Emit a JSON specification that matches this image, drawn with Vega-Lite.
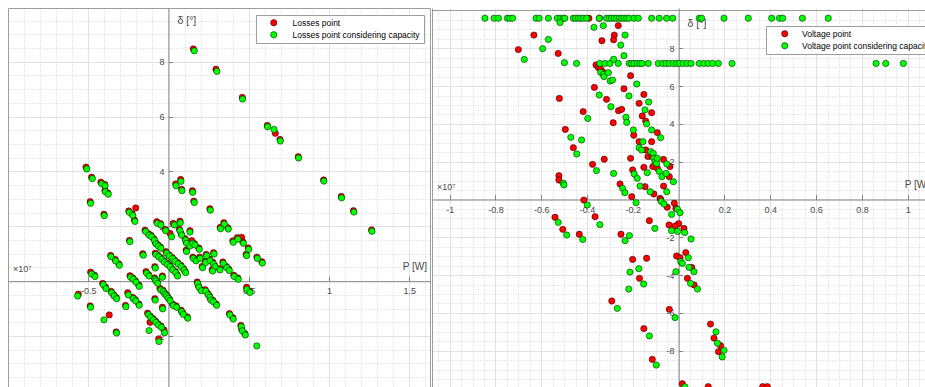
{
  "$schema": "https://vega.github.io/schema/vega-lite/v6.json",
  "usermeta": {"embedOptions": {"actions": false}},
  "background": "white",
  "padding": {"left": 8, "top": 8, "right": 0, "bottom": 0},
  "spacing": 2,
  "bounds": "flush",
  "resolve": {"scale": {"color": "independent"}},
  "config": {
    "font": "Liberation Sans",
    "view": {"stroke": null},
    "axis": {"labelFont": "Liberation Sans", "titleFont": "Liberation Sans", "labelFontSize": 9, "labelColor": "#4a4a4a", "titleColor": "#4a4a4a", "titleFontWeight": "normal", "labelOverlap": false, "labelFlush": false},
    "legend": {"labelFont": "Liberation Sans", "labelFontSize": 8.5, "labelColor": "#000000", "symbolType": "circle", "symbolSize": 40, "symbolStrokeColor": "#000000", "symbolStrokeWidth": 0.5, "fillColor": "#ffffff", "strokeColor": "#9d9d9d", "padding": 3.5, "rowPadding": 3}
  },
  "datasets": {
    "losses": [
      {"s":"Losses point","p":0.155,"d":8.47},{"s":"Losses point","p":0.296,"d":7.73},{"s":"Losses point","p":0.460,"d":6.70},{"s":"Losses point","p":0.616,"d":5.68},{"s":"Losses point","p":0.666,"d":5.39},{"s":"Losses point","p":0.695,"d":5.17},{"s":"Losses point","p":0.809,"d":4.54},{"s":"Losses point","p":0.967,"d":3.69},{"s":"Losses point","p":1.077,"d":3.09},{"s":"Losses point","p":1.153,"d":2.57},{"s":"Losses point","p":1.266,"d":1.87},
      {"s":"Losses point","p":-0.514,"d":4.16},{"s":"Losses point","p":-0.479,"d":3.79},{"s":"Losses point","p":-0.421,"d":3.61},{"s":"Losses point","p":-0.397,"d":3.53},{"s":"Losses point","p":-0.396,"d":3.31},{"s":"Losses point","p":-0.378,"d":3.22},{"s":"Losses point","p":0.045,"d":3.55},{"s":"Losses point","p":0.076,"d":3.71},{"s":"Losses point","p":0.082,"d":3.35},{"s":"Losses point","p":0.149,"d":3.30},{"s":"Losses point","p":0.158,"d":2.92},
      {"s":"Losses point","p":-0.488,"d":2.90},{"s":"Losses point","p":-0.402,"d":2.44},{"s":"Losses point","p":-0.247,"d":2.56},{"s":"Losses point","p":-0.226,"d":2.45},{"s":"Losses point","p":-0.212,"d":2.23},{"s":"Losses point","p":-0.204,"d":2.67},{"s":"Losses point","p":-0.243,"d":1.49},{"s":"Losses point","p":-0.360,"d":0.94},{"s":"Losses point","p":-0.332,"d":0.79},{"s":"Losses point","p":-0.309,"d":0.63},{"s":"Losses point","p":-0.160,"d":1.00},
      {"s":"Losses point","p":-0.485,"d":0.33},{"s":"Losses point","p":-0.461,"d":0.22},{"s":"Losses point","p":-0.410,"d":-0.08},{"s":"Losses point","p":-0.392,"d":-0.22},{"s":"Losses point","p":-0.357,"d":-0.37},{"s":"Losses point","p":-0.342,"d":-0.49},{"s":"Losses point","p":-0.326,"d":-0.59},{"s":"Losses point","p":-0.562,"d":-0.47},{"s":"Losses point","p":-0.488,"d":-0.90},{"s":"Losses point","p":-0.369,"d":-1.23},{"s":"Losses point","p":-0.326,"d":-1.85},
      {"s":"Losses point","p":-0.268,"d":-0.88},{"s":"Losses point","p":-0.254,"d":-0.42},{"s":"Losses point","p":-0.222,"d":-0.59},{"s":"Losses point","p":-0.207,"d":-0.67},{"s":"Losses point","p":-0.185,"d":-0.83},{"s":"Losses point","p":-0.240,"d":0.20},{"s":"Losses point","p":-0.222,"d":0.12},{"s":"Losses point","p":-0.205,"d":0.01},{"s":"Losses point","p":-0.185,"d":-0.14},{"s":"Losses point","p":-0.140,"d":0.35},{"s":"Losses point","p":-0.124,"d":0.24},
      {"s":"Losses point","p":-0.085,"d":0.53},{"s":"Losses point","p":-0.038,"d":0.19},{"s":"Losses point","p":-0.087,"d":0.12},{"s":"Losses point","p":-0.081,"d":0.06},{"s":"Losses point","p":-0.070,"d":-0.03},{"s":"Losses point","p":-0.053,"d":-0.26},{"s":"Losses point","p":-0.035,"d":-0.33},{"s":"Losses point","p":-0.025,"d":-0.42},{"s":"Losses point","p":-0.014,"d":-0.49},{"s":"Losses point","p":-0.004,"d":-0.57},{"s":"Losses point","p":0.007,"d":-0.66},
      {"s":"Losses point","p":-0.085,"d":-0.64},{"s":"Losses point","p":-0.038,"d":-0.95},{"s":"Losses point","p":-0.130,"d":-1.17},{"s":"Losses point","p":-0.114,"d":-1.27},{"s":"Losses point","p":-0.097,"d":-1.36},{"s":"Losses point","p":-0.081,"d":-1.45},{"s":"Losses point","p":-0.066,"d":-1.55},{"s":"Losses point","p":-0.047,"d":-1.63},{"s":"Losses point","p":-0.115,"d":-1.50},{"s":"Losses point","p":-0.028,"d":-1.78},{"s":"Losses point","p":-0.061,"d":-2.10},
      {"s":"Losses point","p":-0.146,"d":1.86},{"s":"Losses point","p":-0.124,"d":1.73},{"s":"Losses point","p":-0.108,"d":1.67},{"s":"Losses point","p":-0.091,"d":1.55},{"s":"Losses point","p":-0.081,"d":1.41},{"s":"Losses point","p":-0.066,"d":1.33},{"s":"Losses point","p":-0.050,"d":1.25},{"s":"Losses point","p":-0.082,"d":1.02},{"s":"Losses point","p":-0.064,"d":0.94},{"s":"Losses point","p":-0.045,"d":0.85},{"s":"Losses point","p":-0.029,"d":0.75},{"s":"Losses point","p":-0.010,"d":0.66},{"s":"Losses point","p":0.007,"d":0.58},{"s":"Losses point","p":0.023,"d":0.46},{"s":"Losses point","p":0.042,"d":0.36},{"s":"Losses point","p":0.054,"d":0.24},
      {"s":"Losses point","p":-0.016,"d":1.08},{"s":"Losses point","p":0.002,"d":0.97},{"s":"Losses point","p":0.023,"d":0.87},{"s":"Losses point","p":0.038,"d":0.77},{"s":"Losses point","p":0.058,"d":0.68},{"s":"Losses point","p":0.077,"d":0.58},{"s":"Losses point","p":0.094,"d":0.46},{"s":"Losses point","p":0.104,"d":0.36},
      {"s":"Losses point","p":-0.073,"d":2.17},{"s":"Losses point","p":-0.050,"d":2.10},{"s":"Losses point","p":-0.020,"d":1.89},{"s":"Losses point","p":0.030,"d":2.11},{"s":"Losses point","p":0.010,"d":1.74},{"s":"Losses point","p":0.072,"d":2.19},{"s":"Losses point","p":0.068,"d":1.89},{"s":"Losses point","p":0.079,"d":1.73},{"s":"Losses point","p":0.104,"d":1.55},{"s":"Losses point","p":0.110,"d":1.43},{"s":"Losses point","p":0.131,"d":1.33},{"s":"Losses point","p":0.134,"d":1.84},{"s":"Losses point","p":0.145,"d":1.48},{"s":"Losses point","p":0.162,"d":1.37},{"s":"Losses point","p":0.189,"d":1.21},{"s":"Losses point","p":0.110,"d":1.13},
      {"s":"Losses point","p":0.152,"d":0.88},{"s":"Losses point","p":0.169,"d":0.79},{"s":"Losses point","p":0.194,"d":0.88},{"s":"Losses point","p":0.235,"d":0.98},{"s":"Losses point","p":0.281,"d":1.04},{"s":"Losses point","p":0.210,"d":0.54},{"s":"Losses point","p":0.229,"d":0.73},{"s":"Losses point","p":0.256,"d":0.80},{"s":"Losses point","p":0.276,"d":0.69},{"s":"Losses point","p":0.287,"d":0.58},{"s":"Losses point","p":0.318,"d":0.46},{"s":"Losses point","p":0.339,"d":0.70},{"s":"Losses point","p":0.360,"d":0.54},{"s":"Losses point","p":0.376,"d":0.44},{"s":"Losses point","p":0.272,"d":0.42},{"s":"Losses point","p":0.407,"d":0.22},{"s":"Losses point","p":0.432,"d":0.12},
      {"s":"Losses point","p":0.258,"d":2.64},{"s":"Losses point","p":0.345,"d":2.13},{"s":"Losses point","p":0.322,"d":1.96},{"s":"Losses point","p":0.370,"d":1.95},{"s":"Losses point","p":0.401,"d":1.47},{"s":"Losses point","p":0.429,"d":1.59},{"s":"Losses point","p":0.456,"d":1.60},{"s":"Losses point","p":0.464,"d":1.43},{"s":"Losses point","p":0.497,"d":1.21},{"s":"Losses point","p":0.484,"d":0.98},{"s":"Losses point","p":0.551,"d":0.88},{"s":"Losses point","p":0.582,"d":0.71},
      {"s":"Losses point","p":0.179,"d":-0.03},{"s":"Losses point","p":0.187,"d":-0.17},{"s":"Losses point","p":0.202,"d":-0.30},{"s":"Losses point","p":0.229,"d":-0.31},{"s":"Losses point","p":0.245,"d":-0.45},{"s":"Losses point","p":0.256,"d":-0.54},{"s":"Losses point","p":0.262,"d":-0.64},{"s":"Losses point","p":0.277,"d":-0.70},{"s":"Losses point","p":0.297,"d":-0.83},
      {"s":"Losses point","p":0.027,"d":-0.84},{"s":"Losses point","p":0.048,"d":-0.90},{"s":"Losses point","p":0.079,"d":-1.06},{"s":"Losses point","p":0.090,"d":-1.16},{"s":"Losses point","p":0.117,"d":-1.30},{"s":"Losses point","p":0.487,"d":-0.22},{"s":"Losses point","p":0.505,"d":-0.36},{"s":"Losses point","p":0.380,"d":-1.18},{"s":"Losses point","p":0.401,"d":-1.33},{"s":"Losses point","p":0.451,"d":-1.61},{"s":"Losses point","p":0.457,"d":-1.76},{"s":"Losses point","p":0.476,"d":-1.91},

      {"s":"Losses point considering capacity","p":0.161,"d":8.40},{"s":"Losses point considering capacity","p":0.302,"d":7.65},{"s":"Losses point considering capacity","p":0.462,"d":6.64},{"s":"Losses point considering capacity","p":0.618,"d":5.63},{"s":"Losses point considering capacity","p":0.658,"d":5.53},{"s":"Losses point considering capacity","p":0.697,"d":5.11},{"s":"Losses point considering capacity","p":0.811,"d":4.49},{"s":"Losses point considering capacity","p":0.969,"d":3.65},{"s":"Losses point considering capacity","p":1.079,"d":3.04},{"s":"Losses point considering capacity","p":1.156,"d":2.52},{"s":"Losses point considering capacity","p":1.268,"d":1.82},
      {"s":"Losses point considering capacity","p":-0.509,"d":4.09},{"s":"Losses point considering capacity","p":-0.474,"d":3.74},{"s":"Losses point considering capacity","p":-0.416,"d":3.55},{"s":"Losses point considering capacity","p":-0.395,"d":3.48},{"s":"Losses point considering capacity","p":-0.393,"d":3.26},{"s":"Losses point considering capacity","p":-0.375,"d":3.17},{"s":"Losses point considering capacity","p":0.047,"d":3.48},{"s":"Losses point considering capacity","p":0.078,"d":3.64},{"s":"Losses point considering capacity","p":0.084,"d":3.30},{"s":"Losses point considering capacity","p":0.151,"d":3.24},{"s":"Losses point considering capacity","p":0.161,"d":2.87},
      {"s":"Losses point considering capacity","p":-0.485,"d":2.84},{"s":"Losses point considering capacity","p":-0.400,"d":2.39},{"s":"Losses point considering capacity","p":-0.244,"d":2.51},{"s":"Losses point considering capacity","p":-0.223,"d":2.40},{"s":"Losses point considering capacity","p":-0.209,"d":2.18},{"s":"Losses point considering capacity","p":-0.240,"d":1.44},{"s":"Losses point considering capacity","p":-0.358,"d":0.89},{"s":"Losses point considering capacity","p":-0.329,"d":0.74},{"s":"Losses point considering capacity","p":-0.306,"d":0.58},{"s":"Losses point considering capacity","p":-0.157,"d":0.95},
      {"s":"Losses point considering capacity","p":-0.479,"d":0.26},{"s":"Losses point considering capacity","p":-0.458,"d":0.17},{"s":"Losses point considering capacity","p":-0.406,"d":-0.13},{"s":"Losses point considering capacity","p":-0.389,"d":-0.27},{"s":"Losses point considering capacity","p":-0.354,"d":-0.42},{"s":"Losses point considering capacity","p":-0.339,"d":-0.54},{"s":"Losses point considering capacity","p":-0.323,"d":-0.64},{"s":"Losses point considering capacity","p":-0.566,"d":-0.54},{"s":"Losses point considering capacity","p":-0.485,"d":-0.95},{"s":"Losses point considering capacity","p":-0.402,"d":-1.41},{"s":"Losses point considering capacity","p":-0.323,"d":-1.89},
      {"s":"Losses point considering capacity","p":-0.265,"d":-0.93},{"s":"Losses point considering capacity","p":-0.250,"d":-0.50},{"s":"Losses point considering capacity","p":-0.219,"d":-0.64},{"s":"Losses point considering capacity","p":-0.204,"d":-0.72},{"s":"Losses point considering capacity","p":-0.182,"d":-0.88},{"s":"Losses point considering capacity","p":-0.236,"d":0.14},{"s":"Losses point considering capacity","p":-0.219,"d":0.07},{"s":"Losses point considering capacity","p":-0.202,"d":-0.04},{"s":"Losses point considering capacity","p":-0.182,"d":-0.19},{"s":"Losses point considering capacity","p":-0.136,"d":0.29},{"s":"Losses point considering capacity","p":-0.121,"d":0.19},
      {"s":"Losses point considering capacity","p":-0.082,"d":0.48},{"s":"Losses point considering capacity","p":-0.038,"d":0.14},{"s":"Losses point considering capacity","p":-0.084,"d":0.07},{"s":"Losses point considering capacity","p":-0.078,"d":0.01},{"s":"Losses point considering capacity","p":-0.067,"d":-0.08},{"s":"Losses point considering capacity","p":-0.047,"d":-0.32},{"s":"Losses point considering capacity","p":-0.032,"d":-0.38},{"s":"Losses point considering capacity","p":-0.022,"d":-0.47},{"s":"Losses point considering capacity","p":-0.011,"d":-0.54},{"s":"Losses point considering capacity","p":-0.001,"d":-0.62},{"s":"Losses point considering capacity","p":0.010,"d":-0.71},
      {"s":"Losses point considering capacity","p":-0.082,"d":-0.69},{"s":"Losses point considering capacity","p":-0.036,"d":-1.01},{"s":"Losses point considering capacity","p":-0.125,"d":-1.22},{"s":"Losses point considering capacity","p":-0.111,"d":-1.32},{"s":"Losses point considering capacity","p":-0.094,"d":-1.41},{"s":"Losses point considering capacity","p":-0.078,"d":-1.50},{"s":"Losses point considering capacity","p":-0.063,"d":-1.60},{"s":"Losses point considering capacity","p":-0.044,"d":-1.68},{"s":"Losses point considering capacity","p":-0.121,"d":-1.80},{"s":"Losses point considering capacity","p":-0.024,"d":-1.88},{"s":"Losses point considering capacity","p":-0.059,"d":-2.20},
      {"s":"Losses point considering capacity","p":-0.142,"d":1.81},{"s":"Losses point considering capacity","p":-0.121,"d":1.68},{"s":"Losses point considering capacity","p":-0.105,"d":1.62},{"s":"Losses point considering capacity","p":-0.088,"d":1.50},{"s":"Losses point considering capacity","p":-0.078,"d":1.36},{"s":"Losses point considering capacity","p":-0.063,"d":1.28},{"s":"Losses point considering capacity","p":-0.047,"d":1.20},{"s":"Losses point considering capacity","p":-0.078,"d":0.97},{"s":"Losses point considering capacity","p":-0.061,"d":0.89},{"s":"Losses point considering capacity","p":-0.042,"d":0.80},{"s":"Losses point considering capacity","p":-0.026,"d":0.70},{"s":"Losses point considering capacity","p":-0.007,"d":0.61},{"s":"Losses point considering capacity","p":0.010,"d":0.53},{"s":"Losses point considering capacity","p":0.026,"d":0.41},{"s":"Losses point considering capacity","p":0.045,"d":0.31},{"s":"Losses point considering capacity","p":0.057,"d":0.19},
      {"s":"Losses point considering capacity","p":-0.011,"d":1.02},{"s":"Losses point considering capacity","p":0.005,"d":0.92},{"s":"Losses point considering capacity","p":0.026,"d":0.82},{"s":"Losses point considering capacity","p":0.041,"d":0.72},{"s":"Losses point considering capacity","p":0.061,"d":0.63},{"s":"Losses point considering capacity","p":0.080,"d":0.53},{"s":"Losses point considering capacity","p":0.097,"d":0.41},{"s":"Losses point considering capacity","p":0.107,"d":0.31},
      {"s":"Losses point considering capacity","p":-0.069,"d":2.11},{"s":"Losses point considering capacity","p":-0.047,"d":2.05},{"s":"Losses point considering capacity","p":-0.017,"d":1.84},{"s":"Losses point considering capacity","p":0.037,"d":2.05},{"s":"Losses point considering capacity","p":0.020,"d":1.62},{"s":"Losses point considering capacity","p":0.074,"d":2.13},{"s":"Losses point considering capacity","p":0.072,"d":1.84},{"s":"Losses point considering capacity","p":0.082,"d":1.68},{"s":"Losses point considering capacity","p":0.107,"d":1.50},{"s":"Losses point considering capacity","p":0.113,"d":1.38},{"s":"Losses point considering capacity","p":0.134,"d":1.28},{"s":"Losses point considering capacity","p":0.134,"d":1.79},{"s":"Losses point considering capacity","p":0.151,"d":1.38},{"s":"Losses point considering capacity","p":0.165,"d":1.32},{"s":"Losses point considering capacity","p":0.192,"d":1.16},{"s":"Losses point considering capacity","p":0.113,"d":1.08},
      {"s":"Losses point considering capacity","p":0.155,"d":0.83},{"s":"Losses point considering capacity","p":0.172,"d":0.74},{"s":"Losses point considering capacity","p":0.197,"d":0.83},{"s":"Losses point considering capacity","p":0.238,"d":0.93},{"s":"Losses point considering capacity","p":0.284,"d":0.99},{"s":"Losses point considering capacity","p":0.213,"d":0.49},{"s":"Losses point considering capacity","p":0.232,"d":0.68},{"s":"Losses point considering capacity","p":0.259,"d":0.75},{"s":"Losses point considering capacity","p":0.280,"d":0.63},{"s":"Losses point considering capacity","p":0.290,"d":0.53},{"s":"Losses point considering capacity","p":0.321,"d":0.41},{"s":"Losses point considering capacity","p":0.342,"d":0.65},{"s":"Losses point considering capacity","p":0.363,"d":0.49},{"s":"Losses point considering capacity","p":0.379,"d":0.39},{"s":"Losses point considering capacity","p":0.275,"d":0.37},{"s":"Losses point considering capacity","p":0.410,"d":0.17},{"s":"Losses point considering capacity","p":0.435,"d":0.07},
      {"s":"Losses point considering capacity","p":0.261,"d":2.59},{"s":"Losses point considering capacity","p":0.348,"d":2.08},{"s":"Losses point considering capacity","p":0.325,"d":1.91},{"s":"Losses point considering capacity","p":0.373,"d":1.90},{"s":"Losses point considering capacity","p":0.404,"d":1.42},{"s":"Losses point considering capacity","p":0.433,"d":1.53},{"s":"Losses point considering capacity","p":0.467,"d":1.38},{"s":"Losses point considering capacity","p":0.500,"d":1.16},{"s":"Losses point considering capacity","p":0.487,"d":0.93},{"s":"Losses point considering capacity","p":0.554,"d":0.83},{"s":"Losses point considering capacity","p":0.585,"d":0.66},
      {"s":"Losses point considering capacity","p":0.182,"d":-0.08},{"s":"Losses point considering capacity","p":0.190,"d":-0.22},{"s":"Losses point considering capacity","p":0.205,"d":-0.35},{"s":"Losses point considering capacity","p":0.232,"d":-0.36},{"s":"Losses point considering capacity","p":0.248,"d":-0.50},{"s":"Losses point considering capacity","p":0.259,"d":-0.59},{"s":"Losses point considering capacity","p":0.265,"d":-0.69},{"s":"Losses point considering capacity","p":0.280,"d":-0.75},{"s":"Losses point considering capacity","p":0.300,"d":-0.88},
      {"s":"Losses point considering capacity","p":0.030,"d":-0.89},{"s":"Losses point considering capacity","p":0.051,"d":-0.95},{"s":"Losses point considering capacity","p":0.082,"d":-1.11},{"s":"Losses point considering capacity","p":0.093,"d":-1.21},{"s":"Losses point considering capacity","p":0.120,"d":-1.35},{"s":"Losses point considering capacity","p":0.489,"d":-0.30},{"s":"Losses point considering capacity","p":0.508,"d":-0.41},{"s":"Losses point considering capacity","p":0.383,"d":-1.23},{"s":"Losses point considering capacity","p":0.404,"d":-1.38},{"s":"Losses point considering capacity","p":0.454,"d":-1.66},{"s":"Losses point considering capacity","p":0.460,"d":-1.81},{"s":"Losses point considering capacity","p":0.479,"d":-1.96},{"s":"Losses point considering capacity","p":0.550,"d":-2.36}
    ],
    "voltage": [
      {"s":"Voltage point","p":-0.392,"d":9.59},{"s":"Voltage point","p":-0.346,"d":9.59},{"s":"Voltage point","p":-0.632,"d":8.70},{"s":"Voltage point","p":-0.700,"d":7.93},{"s":"Voltage point","p":-0.526,"d":7.73},{"s":"Voltage point","p":-0.264,"d":9.20},{"s":"Voltage point","p":-0.281,"d":8.70},{"s":"Voltage point","p":-0.284,"d":8.45},{"s":"Voltage point","p":-0.335,"d":8.40},
      {"s":"Voltage point","p":-0.361,"d":7.12},{"s":"Voltage point","p":-0.351,"d":6.99},{"s":"Voltage point","p":-0.341,"d":6.89},{"s":"Voltage point","p":-0.332,"d":6.76},{"s":"Voltage point","p":-0.368,"d":5.93},{"s":"Voltage point","p":-0.315,"d":5.30},{"s":"Voltage point","p":-0.286,"d":4.06},{"s":"Voltage point","p":-0.417,"d":4.65},{"s":"Voltage point","p":-0.521,"d":5.35},{"s":"Voltage point","p":-0.495,"d":3.71},{"s":"Voltage point","p":-0.460,"d":2.74},
      {"s":"Voltage point","p":-0.523,"d":1.26},{"s":"Voltage point","p":-0.523,"d":1.03},{"s":"Voltage point","p":-0.376,"d":1.86},{"s":"Voltage point","p":-0.325,"d":2.13},{"s":"Voltage point","p":-0.256,"d":0.82},{"s":"Voltage point","p":-0.210,"d":6.55},{"s":"Voltage point","p":-0.239,"d":5.86},{"s":"Voltage point","p":-0.173,"d":5.09},{"s":"Voltage point","p":-0.152,"d":5.56},{"s":"Voltage point","p":-0.159,"d":4.42},{"s":"Voltage point","p":-0.144,"d":4.15},
      {"s":"Voltage point","p":-0.118,"d":4.59},{"s":"Voltage point","p":-0.093,"d":3.54},{"s":"Voltage point","p":-0.263,"d":4.70},{"s":"Voltage point","p":-0.249,"d":4.77},{"s":"Voltage point","p":-0.196,"d":3.40},{"s":"Voltage point","p":-0.173,"d":3.06},{"s":"Voltage point","p":-0.144,"d":2.62},{"s":"Voltage point","p":-0.134,"d":2.27},{"s":"Voltage point","p":-0.118,"d":3.06},{"s":"Voltage point","p":-0.116,"d":2.27},
      {"s":"Voltage point","p":-0.210,"d":2.18},{"s":"Voltage point","p":-0.201,"d":1.56},{"s":"Voltage point","p":-0.147,"d":0.68},{"s":"Voltage point","p":-0.152,"d":1.70},{"s":"Voltage point","p":-0.113,"d":1.74},{"s":"Voltage point","p":-0.108,"d":0.29},{"s":"Voltage point","p":-0.093,"d":1.65},{"s":"Voltage point","p":-0.066,"d":0.71},{"s":"Voltage point","p":-0.066,"d":2.12},{"s":"Voltage point","p":-0.041,"d":1.21},{"s":"Voltage point","p":-0.081,"d":0.06},{"s":"Voltage point","p":-0.205,"d":0.15},{"s":"Voltage point","p":-0.038,"d":1.74},{"s":"Voltage point","p":-0.414,"d":-0.03},
      {"s":"Voltage point","p":-0.079,"d":0.01},{"s":"Voltage point","p":-0.050,"d":-0.41},{"s":"Voltage point","p":-0.019,"d":-0.20},{"s":"Voltage point","p":-0.012,"d":-0.47},{"s":"Voltage point","p":0.000,"d":-1.28},{"s":"Voltage point","p":-0.016,"d":-1.40},{"s":"Voltage point","p":-0.042,"d":-1.35},{"s":"Voltage point","p":0.023,"d":-1.53},{"s":"Voltage point","p":-0.009,"d":-2.99},{"s":"Voltage point","p":0.006,"d":-3.08},{"s":"Voltage point","p":0.031,"d":-2.81},{"s":"Voltage point","p":0.057,"d":-3.59},{"s":"Voltage point","p":0.038,"d":-4.17},{"s":"Voltage point","p":0.067,"d":-4.52},
      {"s":"Voltage point","p":-0.540,"d":-0.94},{"s":"Voltage point","p":-0.506,"d":-1.58},{"s":"Voltage point","p":-0.434,"d":-1.84},{"s":"Voltage point","p":-0.365,"d":-0.91},{"s":"Voltage point","p":-0.252,"d":-1.84},{"s":"Voltage point","p":-0.201,"d":-3.17},{"s":"Voltage point","p":-0.140,"d":-3.11},{"s":"Voltage point","p":-0.171,"d":-4.17},{"s":"Voltage point","p":-0.292,"d":-5.37},{"s":"Voltage point","p":-0.128,"d":-1.12},{"s":"Voltage point","p":-0.041,"d":-5.81},{"s":"Voltage point","p":-0.152,"d":-6.83},{"s":"Voltage point","p":-0.115,"d":-8.46},
      {"s":"Voltage point","p":0.016,"d":-9.75},{"s":"Voltage point","p":0.139,"d":-6.59},{"s":"Voltage point","p":0.154,"d":-7.33},{"s":"Voltage point","p":0.183,"d":-7.73},{"s":"Voltage point","p":0.174,"d":-8.05},{"s":"Voltage point","p":0.129,"d":-9.90},{"s":"Voltage point","p":0.367,"d":-9.90},{"s":"Voltage point","p":0.387,"d":-9.90},

      {"s":"Voltage point considering capacity","p":-0.846,"d":9.59},{"s":"Voltage point considering capacity","p":-0.806,"d":9.59},{"s":"Voltage point considering capacity","p":-0.787,"d":9.59},{"s":"Voltage point considering capacity","p":-0.748,"d":9.59},{"s":"Voltage point considering capacity","p":-0.737,"d":9.59},{"s":"Voltage point considering capacity","p":-0.725,"d":9.59},{"s":"Voltage point considering capacity","p":-0.623,"d":9.59},{"s":"Voltage point considering capacity","p":-0.609,"d":9.59},{"s":"Voltage point considering capacity","p":-0.569,"d":9.59},{"s":"Voltage point considering capacity","p":-0.530,"d":9.59},{"s":"Voltage point considering capacity","p":-0.516,"d":9.59},{"s":"Voltage point considering capacity","p":-0.504,"d":9.59},{"s":"Voltage point considering capacity","p":-0.497,"d":9.59},{"s":"Voltage point considering capacity","p":-0.460,"d":9.59},{"s":"Voltage point considering capacity","p":-0.450,"d":9.59},{"s":"Voltage point considering capacity","p":-0.438,"d":9.59},{"s":"Voltage point considering capacity","p":-0.428,"d":9.59},{"s":"Voltage point considering capacity","p":-0.416,"d":9.59},{"s":"Voltage point considering capacity","p":-0.402,"d":9.59},{"s":"Voltage point considering capacity","p":-0.347,"d":9.59},{"s":"Voltage point considering capacity","p":-0.315,"d":9.59},{"s":"Voltage point considering capacity","p":-0.303,"d":9.59},{"s":"Voltage point considering capacity","p":-0.293,"d":9.59},{"s":"Voltage point considering capacity","p":-0.281,"d":9.59},{"s":"Voltage point considering capacity","p":-0.271,"d":9.59},{"s":"Voltage point considering capacity","p":-0.259,"d":9.59},{"s":"Voltage point considering capacity","p":-0.249,"d":9.59},{"s":"Voltage point considering capacity","p":-0.237,"d":9.59},{"s":"Voltage point considering capacity","p":-0.227,"d":9.59},{"s":"Voltage point considering capacity","p":-0.216,"d":9.59},{"s":"Voltage point considering capacity","p":-0.195,"d":9.59},{"s":"Voltage point considering capacity","p":-0.176,"d":9.59},{"s":"Voltage point considering capacity","p":-0.118,"d":9.59},{"s":"Voltage point considering capacity","p":-0.085,"d":9.59},{"s":"Voltage point considering capacity","p":-0.053,"d":9.59},{"s":"Voltage point considering capacity","p":-0.026,"d":9.59},{"s":"Voltage point considering capacity","p":0.090,"d":9.59},{"s":"Voltage point considering capacity","p":0.100,"d":9.59},{"s":"Voltage point considering capacity","p":0.198,"d":9.59},{"s":"Voltage point considering capacity","p":0.304,"d":9.59},{"s":"Voltage point considering capacity","p":0.406,"d":9.59},{"s":"Voltage point considering capacity","p":0.440,"d":9.59},{"s":"Voltage point considering capacity","p":0.454,"d":9.59},{"s":"Voltage point considering capacity","p":0.540,"d":9.59},{"s":"Voltage point considering capacity","p":0.653,"d":9.59},
      {"s":"Voltage point considering capacity","p":-0.499,"d":7.24},{"s":"Voltage point considering capacity","p":-0.446,"d":7.20},{"s":"Voltage point considering capacity","p":-0.344,"d":7.20},{"s":"Voltage point considering capacity","p":-0.322,"d":7.20},{"s":"Voltage point considering capacity","p":-0.300,"d":7.20},{"s":"Voltage point considering capacity","p":-0.264,"d":7.20},{"s":"Voltage point considering capacity","p":-0.216,"d":7.20},{"s":"Voltage point considering capacity","p":-0.205,"d":7.20},{"s":"Voltage point considering capacity","p":-0.195,"d":7.20},{"s":"Voltage point considering capacity","p":-0.181,"d":7.20},{"s":"Voltage point considering capacity","p":-0.169,"d":7.20},{"s":"Voltage point considering capacity","p":-0.159,"d":7.20},{"s":"Voltage point considering capacity","p":-0.133,"d":7.20},{"s":"Voltage point considering capacity","p":-0.089,"d":7.20},{"s":"Voltage point considering capacity","p":-0.070,"d":7.20},{"s":"Voltage point considering capacity","p":-0.056,"d":7.20},{"s":"Voltage point considering capacity","p":-0.041,"d":7.20},{"s":"Voltage point considering capacity","p":-0.024,"d":7.20},{"s":"Voltage point considering capacity","p":-0.009,"d":7.20},{"s":"Voltage point considering capacity","p":0.003,"d":7.20},{"s":"Voltage point considering capacity","p":0.020,"d":7.20},{"s":"Voltage point considering capacity","p":0.037,"d":7.20},{"s":"Voltage point considering capacity","p":0.054,"d":7.20},{"s":"Voltage point considering capacity","p":0.090,"d":7.20},{"s":"Voltage point considering capacity","p":0.110,"d":7.20},{"s":"Voltage point considering capacity","p":0.129,"d":7.20},{"s":"Voltage point considering capacity","p":0.148,"d":7.20},{"s":"Voltage point considering capacity","p":0.173,"d":7.20},{"s":"Voltage point considering capacity","p":0.233,"d":7.20},{"s":"Voltage point considering capacity","p":0.862,"d":7.20},{"s":"Voltage point considering capacity","p":0.904,"d":7.20},{"s":"Voltage point considering capacity","p":0.981,"d":7.20},
      {"s":"Voltage point considering capacity","p":-0.674,"d":7.41},{"s":"Voltage point considering capacity","p":-0.569,"d":8.47},{"s":"Voltage point considering capacity","p":-0.594,"d":7.98},{"s":"Voltage point considering capacity","p":-0.518,"d":9.36},{"s":"Voltage point considering capacity","p":-0.370,"d":9.11},{"s":"Voltage point considering capacity","p":-0.329,"d":9.20},{"s":"Voltage point considering capacity","p":-0.234,"d":8.70},{"s":"Voltage point considering capacity","p":-0.253,"d":8.17},{"s":"Voltage point considering capacity","p":-0.239,"d":7.61},{"s":"Voltage point considering capacity","p":-0.284,"d":7.42},
      {"s":"Voltage point considering capacity","p":-0.341,"d":6.73},{"s":"Voltage point considering capacity","p":-0.329,"d":6.62},{"s":"Voltage point considering capacity","p":-0.326,"d":6.50},{"s":"Voltage point considering capacity","p":-0.307,"d":6.71},{"s":"Voltage point considering capacity","p":-0.299,"d":6.27},{"s":"Voltage point considering capacity","p":-0.289,"d":6.32},{"s":"Voltage point considering capacity","p":-0.347,"d":5.53},{"s":"Voltage point considering capacity","p":-0.296,"d":4.91},{"s":"Voltage point considering capacity","p":-0.397,"d":4.29},{"s":"Voltage point considering capacity","p":-0.471,"d":3.29},{"s":"Voltage point considering capacity","p":-0.445,"d":2.41},{"s":"Voltage point considering capacity","p":-0.424,"d":3.15},
      {"s":"Voltage point considering capacity","p":-0.504,"d":0.86},{"s":"Voltage point considering capacity","p":-0.501,"d":0.77},{"s":"Voltage point considering capacity","p":-0.359,"d":1.53},{"s":"Voltage point considering capacity","p":-0.284,"d":1.38},{"s":"Voltage point considering capacity","p":-0.245,"d":0.59},{"s":"Voltage point considering capacity","p":-0.235,"d":0.36},{"s":"Voltage point considering capacity","p":-0.183,"d":6.11},{"s":"Voltage point considering capacity","p":-0.217,"d":5.48},{"s":"Voltage point considering capacity","p":-0.131,"d":5.16},{"s":"Voltage point considering capacity","p":-0.147,"d":4.74},{"s":"Voltage point considering capacity","p":-0.140,"d":4.00},{"s":"Voltage point considering capacity","p":-0.118,"d":3.68},{"s":"Voltage point considering capacity","p":-0.079,"d":3.27},
      {"s":"Voltage point considering capacity","p":-0.230,"d":4.35},{"s":"Voltage point considering capacity","p":-0.227,"d":4.08},{"s":"Voltage point considering capacity","p":-0.198,"d":3.68},{"s":"Voltage point considering capacity","p":-0.156,"d":3.06},{"s":"Voltage point considering capacity","p":-0.173,"d":2.74},{"s":"Voltage point considering capacity","p":-0.162,"d":2.62},{"s":"Voltage point considering capacity","p":-0.122,"d":2.53},{"s":"Voltage point considering capacity","p":-0.111,"d":2.44},{"s":"Voltage point considering capacity","p":-0.108,"d":2.18},{"s":"Voltage point considering capacity","p":-0.103,"d":2.00},{"s":"Voltage point considering capacity","p":-0.096,"d":1.91},{"s":"Voltage point considering capacity","p":-0.093,"d":2.18},
      {"s":"Voltage point considering capacity","p":-0.194,"d":1.35},{"s":"Voltage point considering capacity","p":-0.181,"d":1.12},{"s":"Voltage point considering capacity","p":-0.169,"d":0.71},{"s":"Voltage point considering capacity","p":-0.137,"d":1.42},{"s":"Voltage point considering capacity","p":-0.125,"d":0.41},{"s":"Voltage point considering capacity","p":-0.085,"d":1.48},{"s":"Voltage point considering capacity","p":-0.073,"d":1.21},{"s":"Voltage point considering capacity","p":-0.052,"d":0.41},{"s":"Voltage point considering capacity","p":-0.052,"d":1.88},{"s":"Voltage point considering capacity","p":-0.055,"d":1.38},{"s":"Voltage point considering capacity","p":-0.023,"d":0.94},
      {"s":"Voltage point considering capacity","p":-0.186,"d":-0.17},{"s":"Voltage point considering capacity","p":-0.076,"d":-0.11},{"s":"Voltage point considering capacity","p":-0.064,"d":-0.24},{"s":"Voltage point considering capacity","p":-0.031,"d":-0.79},{"s":"Voltage point considering capacity","p":-0.005,"d":-0.52},{"s":"Voltage point considering capacity","p":0.006,"d":-0.70},{"s":"Voltage point considering capacity","p":-0.031,"d":-1.65},{"s":"Voltage point considering capacity","p":-0.005,"d":-1.69},{"s":"Voltage point considering capacity","p":0.026,"d":-1.75},{"s":"Voltage point considering capacity","p":0.054,"d":-2.09},
      {"s":"Voltage point considering capacity","p":0.042,"d":-3.08},{"s":"Voltage point considering capacity","p":0.009,"d":-3.29},{"s":"Voltage point considering capacity","p":0.016,"d":-3.38},{"s":"Voltage point considering capacity","p":-0.012,"d":-3.82},{"s":"Voltage point considering capacity","p":0.045,"d":-3.59},{"s":"Voltage point considering capacity","p":0.067,"d":-3.82},{"s":"Voltage point considering capacity","p":0.052,"d":-4.44},{"s":"Voltage point considering capacity","p":0.082,"d":-4.74},
      {"s":"Voltage point considering capacity","p":-0.526,"d":-1.21},{"s":"Voltage point considering capacity","p":-0.489,"d":-1.88},{"s":"Voltage point considering capacity","p":-0.419,"d":-2.11},{"s":"Voltage point considering capacity","p":-0.399,"d":-0.29},{"s":"Voltage point considering capacity","p":-0.344,"d":-1.33},{"s":"Voltage point considering capacity","p":-0.234,"d":-2.18},{"s":"Voltage point considering capacity","p":-0.215,"d":-1.91},{"s":"Voltage point considering capacity","p":-0.213,"d":-3.84},{"s":"Voltage point considering capacity","p":-0.174,"d":-3.66},{"s":"Voltage point considering capacity","p":-0.153,"d":-4.47},{"s":"Voltage point considering capacity","p":-0.218,"d":-4.74},{"s":"Voltage point considering capacity","p":-0.268,"d":-5.76},
      {"s":"Voltage point considering capacity","p":-0.104,"d":-1.53},{"s":"Voltage point considering capacity","p":-0.016,"d":-6.25},{"s":"Voltage point considering capacity","p":-0.128,"d":-7.22},{"s":"Voltage point considering capacity","p":-0.098,"d":-8.76},{"s":"Voltage point considering capacity","p":0.027,"d":-9.91},{"s":"Voltage point considering capacity","p":0.163,"d":-7.00},{"s":"Voltage point considering capacity","p":0.169,"d":-7.60},{"s":"Voltage point considering capacity","p":0.198,"d":-7.98},{"s":"Voltage point considering capacity","p":0.190,"d":-8.33}
    ]
  },
  "hconcat": [
    {
      "width": 422,
      "height": 384,
      "resolve": {"axis": {"x": "independent", "y": "independent"}},
      "layer": [
        {
          "data": {"values": [{}]},
          "mark": {"type": "text", "text": "×10⁷", "align": "left", "baseline": "alphabetic", "dx": 5, "dy": -9.5, "fontSize": 9, "color": "#4a4a4a"},
          "encoding": {
            "x": {"datum": -1, "type": "quantitative", "scale": {"domain": [-1, 1.63], "nice": false, "zero": false},
              "axis": {"orient": "top", "title": null, "labels": false, "ticks": false, "domain": true, "domainColor": "#9d9d9d", "grid": true, "gridColor": "#d2d2d2", "gridDash": [1, 2],
                "values": [-1,-0.9,-0.8,-0.7,-0.6,-0.5,-0.4,-0.3,-0.2,-0.1,0,0.1,0.2,0.3,0.4,0.5,0.6,0.7,0.8,0.9,1,1.1,1.2,1.3,1.4,1.5,1.6]}},
            "y": {"datum": 0, "type": "quantitative", "scale": {"domain": [-4.04, 9.96], "nice": false, "zero": false},
              "axis": {"orient": "left", "title": null, "labels": false, "ticks": false, "domain": true, "domainColor": "#9d9d9d", "grid": true, "gridColor": "#d2d2d2", "gridDash": [1, 2],
                "values": [-4,-3.5,-3,-2.5,-2,-1.5,-1,-0.5,0,0.5,1,1.5,2,2.5,3,3.5,4,4.5,5,5.5,6,6.5,7,7.5,8,8.5,9,9.5]}}
          }
        },
        {
          "data": {"name": "losses"},
          "mark": {"type": "point", "filled": true, "shape": "circle", "size": 40, "stroke": "#000000", "strokeWidth": 0.5, "opacity": 1, "clip": true},
          "encoding": {
            "x": {"field": "p", "type": "quantitative", "scale": {"domain": [-1, 1.63], "nice": false, "zero": false},
              "axis": {"orient": "bottom", "offset": -110.8, "title": null, "values": [-0.5, 0.5, 1, 1.5],
                "labelExpr": "datum.value < 0 ? '-' + format(-datum.value, '~g') : format(datum.value, '~g')",
                "domain": true, "domainColor": "#808080", "ticks": true, "tickColor": "#808080", "tickSize": -5, "labelPadding": 10.5,
                "grid": true, "gridColor": "#e2e2e2"}},
            "y": {"field": "d", "type": "quantitative", "scale": {"domain": [-4.04, 9.96], "nice": false, "zero": false},
              "axis": {"orient": "left", "offset": -160.46, "values": [-2, 2, 4, 6, 8],
                "labelExpr": "datum.value < 0 ? '-' + format(-datum.value, '~g') : format(datum.value, '~g')",
                "domain": true, "domainColor": "#808080", "ticks": true, "tickColor": "#808080", "tickSize": -4, "labelPadding": 8.5,
                "grid": true, "gridColor": "#e2e2e2",
                "title": "δ [°]", "titleAngle": 0, "titleAlign": "left", "titleBaseline": "alphabetic", "titleX": 8.5, "titleY": 15, "titleFontSize": 10.5}},
            "color": {"field": "s", "type": "nominal",
              "scale": {"domain": ["Losses point", "Losses point considering capacity"], "range": ["#ff0000", "#00ff00"]},
              "legend": {"title": null, "orient": "none", "legendX": 248, "legendY": 7, "symbolOffset": 10, "labelOffset": 14.5}}
          }
        },
        {
          "data": {"values": [{}]},
          "mark": {"type": "text", "text": "P [W]", "align": "right", "baseline": "alphabetic", "dx": -3, "dy": -11, "fontSize": 10, "color": "#4a4a4a"},
          "encoding": {
            "x": {"datum": 1.63, "type": "quantitative", "scale": {"domain": [-1, 1.63], "nice": false, "zero": false}, "axis": null},
            "y": {"datum": 0, "type": "quantitative", "scale": {"domain": [-4.04, 9.96], "nice": false, "zero": false},
              "axis": {"orient": "right", "title": null, "labels": false, "ticks": false, "grid": false, "domain": true, "domainColor": "#9d9d9d"}}
          }
        }
      ]
    },
    {
      "width": 500,
      "height": 384,
      "resolve": {"axis": {"x": "independent", "y": "independent"}},
      "layer": [
        {
          "data": {"values": [{}]},
          "mark": {"type": "text", "text": "×10⁷", "align": "left", "baseline": "alphabetic", "dx": 5, "dy": -9.5, "fontSize": 9, "color": "#4a4a4a"},
          "encoding": {
            "x": {"datum": -1.077, "type": "quantitative", "scale": {"domain": [-1.077, 1.106], "nice": false, "zero": false},
              "axis": {"orient": "top", "offset": -2, "title": null, "labels": false, "ticks": false, "domain": true, "domainColor": "#9d9d9d", "grid": true, "gridColor": "#d2d2d2", "gridDash": [1, 2],
                "values": [-1.05,-1,-0.95,-0.9,-0.85,-0.8,-0.75,-0.7,-0.65,-0.6,-0.55,-0.5,-0.45,-0.4,-0.35,-0.3,-0.25,-0.2,-0.15,-0.1,-0.05,0,0.05,0.1,0.15,0.2,0.25,0.3,0.35,0.4,0.45,0.5,0.55,0.6,0.65,0.7,0.75,0.8,0.85,0.9,0.95,1,1.05,1.1]}},
            "y": {"datum": 0, "type": "quantitative", "scale": {"domain": [-10.185, 10.132], "nice": false, "zero": false},
              "axis": {"orient": "left", "title": null, "labels": false, "ticks": false, "domain": true, "domainColor": "#9d9d9d", "grid": true, "gridColor": "#d2d2d2", "gridDash": [1, 2],
                "values": [-10,-9.5,-9,-8.5,-8,-7.5,-7,-6.5,-6,-5.5,-5,-4.5,-4,-3.5,-3,-2.5,-2,-1.5,-1,-0.5,0,0.5,1,1.5,2,2.5,3,3.5,4,4.5,5,5.5,6,6.5,7,7.5,8,8.5,9,9.5,10]}}
          }
        },
        {
          "data": {"name": "voltage"},
          "mark": {"type": "point", "filled": true, "shape": "circle", "size": 40, "stroke": "#000000", "strokeWidth": 0.5, "opacity": 1, "clip": true},
          "encoding": {
            "x": {"field": "p", "type": "quantitative", "scale": {"domain": [-1.077, 1.106], "nice": false, "zero": false},
              "axis": {"orient": "bottom", "offset": -192.5, "title": null, "values": [-1, -0.8, -0.6, -0.4, -0.2, 0.2, 0.4, 0.6, 0.8, 1],
                "labelExpr": "datum.value < 0 ? '-' + format(-datum.value, '~g') : format(datum.value, '~g')",
                "domain": true, "domainColor": "#808080", "ticks": true, "tickColor": "#808080", "tickSize": -5, "labelPadding": 10.5,
                "grid": true, "gridColor": "#e2e2e2"}},
            "y": {"field": "d", "type": "quantitative", "scale": {"domain": [-10.185, 10.132], "nice": false, "zero": false},
              "axis": {"orient": "left", "offset": -246.6, "values": [-8, -6, -4, -2, 2, 4, 6, 8],
                "labelExpr": "datum.value < 0 ? '-' + format(-datum.value, '~g') : format(datum.value, '~g')",
                "domain": true, "domainColor": "#808080", "ticks": true, "tickColor": "#808080", "tickSize": -4, "labelPadding": 8.5,
                "grid": true, "gridColor": "#e2e2e2",
                "title": "δ [°]", "titleAngle": 0, "titleAlign": "left", "titleBaseline": "alphabetic", "titleX": 8.4, "titleY": 18, "titleFontSize": 10.5}},
            "color": {"field": "s", "type": "nominal",
              "scale": {"domain": ["Voltage point", "Voltage point considering capacity"], "range": ["#ff0000", "#00ff00"]},
              "legend": {"title": null, "orient": "none", "legendX": 334, "legendY": 18, "symbolOffset": 11, "labelOffset": 13}}
          }
        },
        {
          "data": {"values": [{}]},
          "mark": {"type": "text", "text": "P [W]", "align": "right", "baseline": "alphabetic", "dx": -3, "dy": -11.5, "fontSize": 10, "color": "#4a4a4a"},
          "encoding": {
            "x": {"datum": 1.106, "type": "quantitative", "scale": {"domain": [-1.077, 1.106], "nice": false, "zero": false}, "axis": null},
            "y": {"datum": 0, "type": "quantitative", "scale": {"domain": [-10.185, 10.132], "nice": false, "zero": false}, "axis": null}
          }
        }
      ]
    }
  ]
}
